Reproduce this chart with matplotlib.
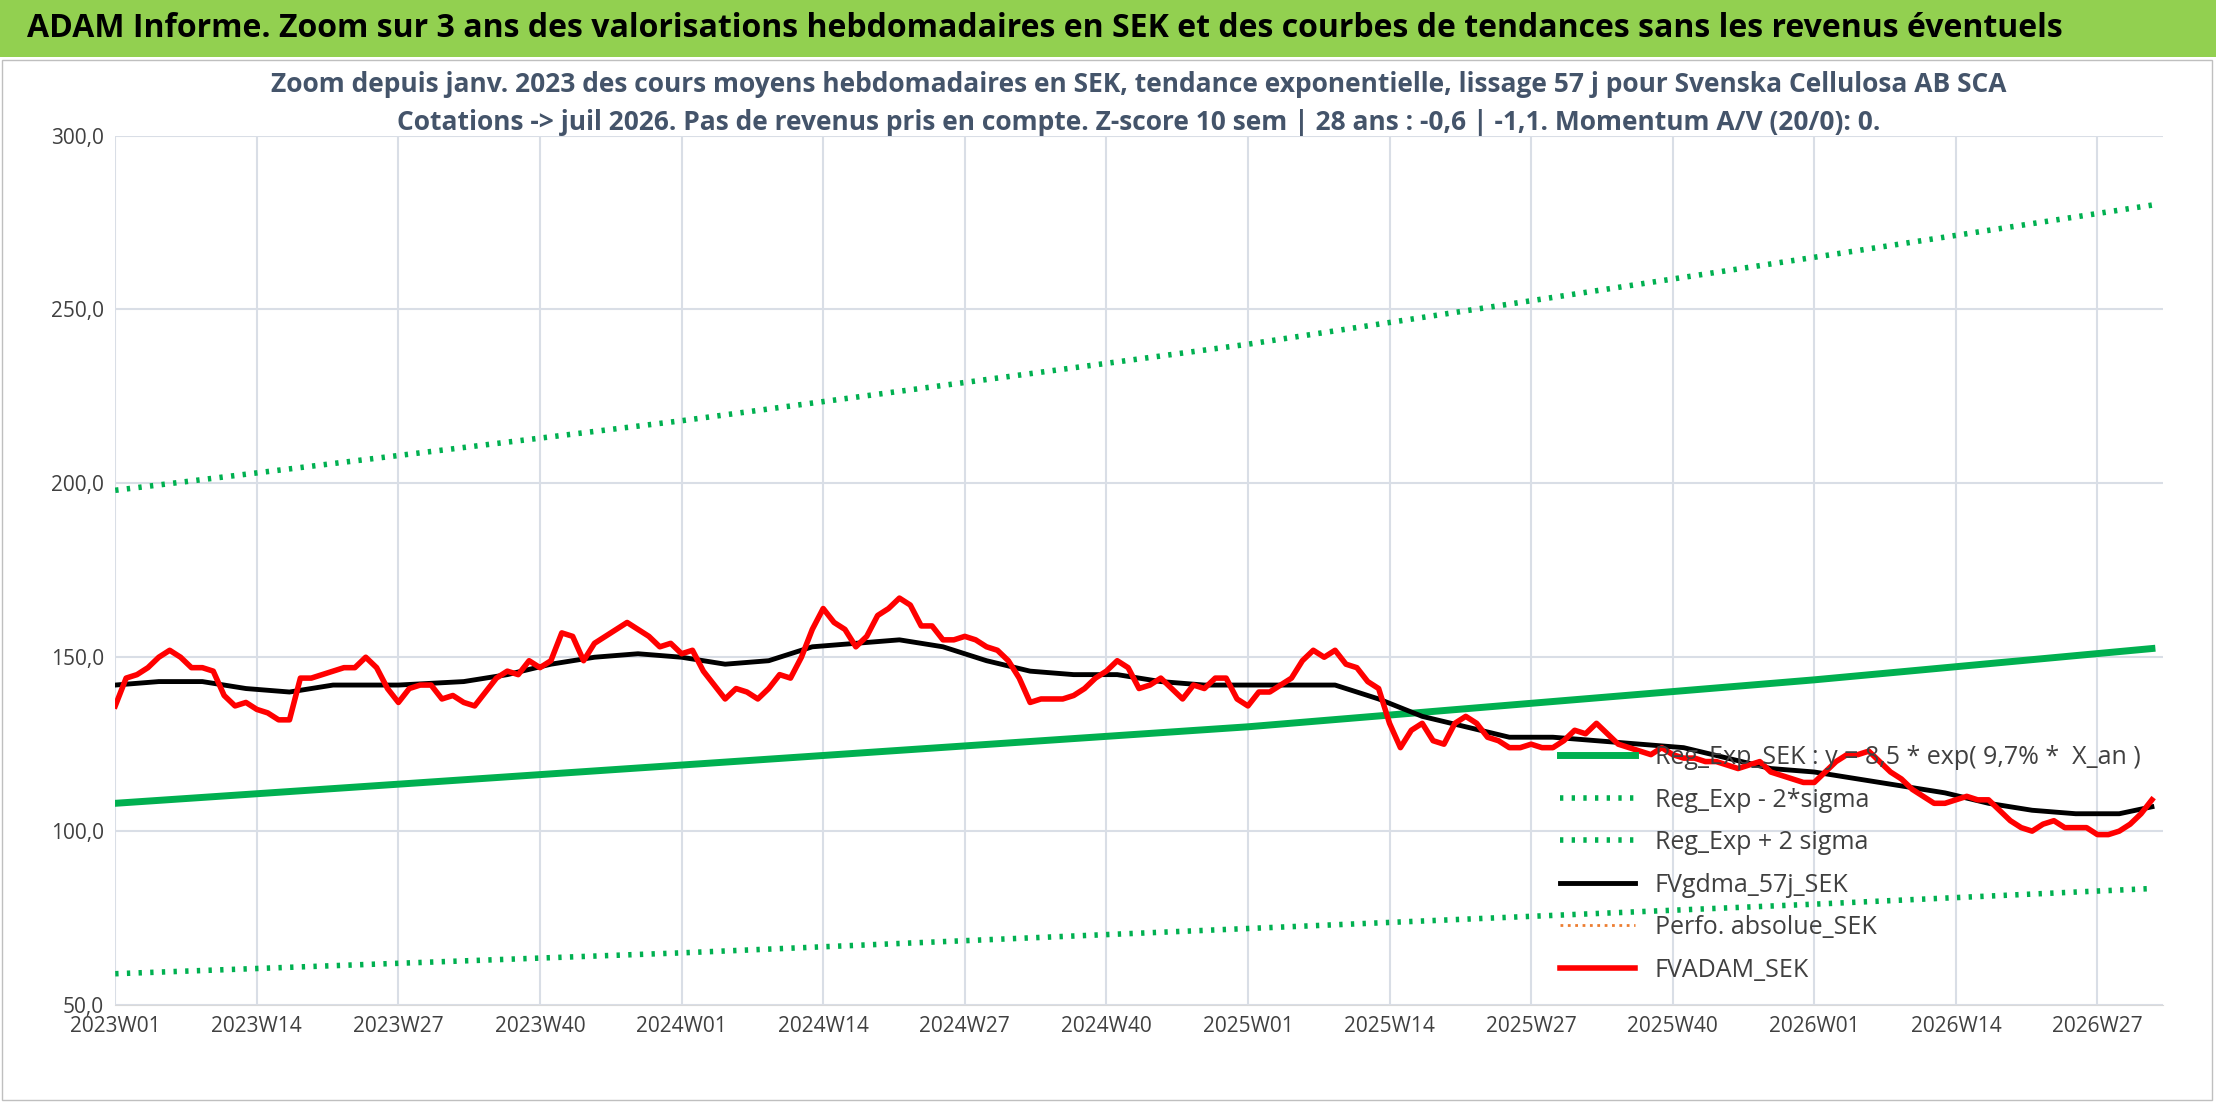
import matplotlib.pyplot as plt

# weekly FVADAM values from 2023W01
fvadam = [136, 144, 145, 147, 150, 152, 150, 147, 147, 146, 139, 136, 137, 135, 134, 132, 132,
          144, 144, 145, 146, 147, 147, 150, 147, 141, 137, 141, 142, 142, 138, 139, 137, 136,
          140, 144, 146, 145, 149, 147, 149, 157, 156, 149, 154, 156, 158, 160, 158, 156, 153,
          154, 151, 152, 146, 142, 138, 141, 140, 138, 141, 145, 144, 150, 158, 164, 160, 158,
          153, 156, 162, 164, 167, 165, 159, 159, 155, 155, 156, 155, 153, 152, 149, 144, 137,
          138, 138, 138, 139, 141, 144, 146, 149, 147, 141, 142, 144, 141, 138, 142, 141, 144,
          144, 138, 136, 140, 140, 142, 144, 149, 152, 150, 152, 148, 147, 143, 141, 131, 124,
          129, 131, 126, 125, 131, 133, 131, 127, 126, 124, 124, 125, 124, 124, 126, 129, 128,
          131, 128, 125, 124, 123, 122, 124, 122, 121, 121, 120, 120, 119, 118, 119, 120, 117,
          116, 115, 114, 114, 117, 120, 122, 122, 123, 120, 117, 115, 112, 110, 108, 108, 109,
          110, 109, 109, 106, 103, 101, 100, 102, 103, 101, 101, 101, 99, 99, 100, 102, 105, 109]

gdma_weeks = [0, 4, 8, 12, 16, 20, 26, 32, 36, 40, 44, 48, 52, 56, 60, 64, 68, 72, 76, 80, 84,
              88, 92, 96, 100, 104, 108, 112, 116, 120, 124, 128, 132, 136, 140, 144, 148, 152,
              156, 160, 164, 168, 172, 176, 180, 184, 187]
gdma = [142, 143, 143, 141, 140, 142, 142, 143, 145, 148, 150, 151, 150, 148, 149, 153, 154,
        155, 153, 149, 146, 145, 145, 143, 142, 142, 142, 142, 138, 133, 130, 127, 127, 126,
        125, 124, 121, 118, 117, 115, 113, 111, 108, 106, 105, 105, 107]

reg_weeks = [0, 52, 104, 156, 187]
reg_exp = [108, 119, 130, 143.5, 152.5]
reg_low = [59, 65, 72, 79, 83.5]
reg_high = [198, 218, 240, 265, 280]

tick_weeks = list(range(0, 183, 13))
tick_labels = ['2023W01', '2023W14', '2023W27', '2023W40', '2024W01', '2024W14', '2024W27',
               '2024W40', '2025W01', '2025W14', '2025W27', '2025W40', '2026W01', '2026W14',
               '2026W27']

plt.rcParams['font.family'] = ['Open Sans', 'DejaVu Sans']
fig = plt.figure(figsize=(22.16, 11.02), dpi=100)
fig.patch.set_facecolor('white')

# green banner
fig.patches.append(plt.Rectangle((0, 0.948), 1, 0.052, transform=fig.transFigure,
                                 facecolor='#92D050', edgecolor='none'))
fig.text(0.012, 0.974, 'ADAM Informe. Zoom sur 3 ans des valorisations hebdomadaires en SEK et des courbes de tendances sans les revenus éventuels',
         fontsize=23, fontweight='bold', va='center', ha='left')
fig.patches.append(plt.Rectangle((0.001, 0.002), 0.997, 0.944, transform=fig.transFigure,
                                 facecolor='none', edgecolor='#bfbfbf', lw=1))

ax = fig.add_axes([0.052, 0.088, 0.924, 0.789])
green = '#00B050'
ax.plot(reg_weeks, reg_exp, color=green, lw=5, label='Reg_Exp_SEK : y = 8,5 * exp( 9,7% *  X_an )')
ax.plot(reg_weeks, reg_low, color=green, lw=4, ls=(0, (0.6, 1.5)), label='Reg_Exp - 2*sigma')
ax.plot(reg_weeks, reg_high, color=green, lw=4, ls=(0, (0.6, 1.5)), label='Reg_Exp + 2 sigma')
ax.plot(gdma_weeks, gdma, color='black', lw=3.5, label='FVgdma_57j_SEK')
ax.plot([], [], color='#ED7D31', lw=2, ls=':', label='Perfo. absolue_SEK')
ax.plot(range(len(fvadam)), fvadam, color='#FF0000', lw=4, label='FVADAM_SEK')

ax.set_xlim(0, 188)
ax.set_ylim(50, 300)
ax.set_yticks([50, 100, 150, 200, 250, 300])
ax.set_yticklabels(['50,0', '100,0', '150,0', '200,0', '250,0', '300,0'])
ax.set_xticks(tick_weeks)
ax.set_xticklabels(tick_labels)
ax.tick_params(labelsize=15, colors='#404040', length=0, pad=8)
ax.grid(True, color='#D9DEE6', lw=1.5)
ax.set_axisbelow(True)
for s in ['top', 'right', 'left']:
    ax.spines[s].set_visible(False)
ax.spines['bottom'].set_color('#D9D9D9')

ax.set_title('Zoom depuis janv. 2023 des cours moyens hebdomadaires en SEK, tendance exponentielle, lissage 57 j pour Svenska Cellulosa AB SCA\n'
             'Cotations -> juil 2026. Pas de revenus pris en compte. Z-score 10 sem | 28 ans : -0,6 | -1,1. Momentum A/V (20/0): 0.',
             fontsize=19, fontweight='bold', color='#44546A', linespacing=1.5, pad=-50)

ax.legend(loc='lower right', bbox_to_anchor=(1.0, 0.0), frameon=False, fontsize=18,
          labelcolor='#404040', handlelength=3.0, labelspacing=0.7, facecolor='none')

fig.savefig('out.png', dpi=100)
